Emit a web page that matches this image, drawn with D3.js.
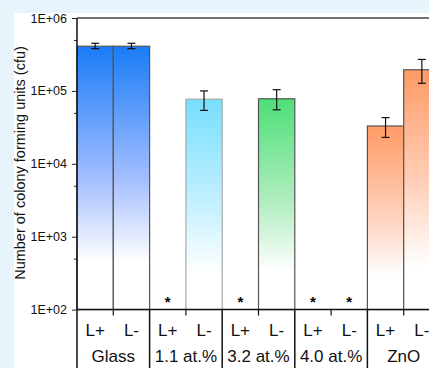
<!DOCTYPE html>
<html>
<head>
<meta charset="utf-8">
<script src="https://cdn.jsdelivr.net/npm/d3@7"></script>
<style>
  html, body { margin: 0; padding: 0; background: #e8f4fb; }
  svg { display: block; font-family: "Liberation Sans", Arial, sans-serif; }
</style>
</head>
<body>
<div id="chart"></div>
<script>
// valores (cfu); null = não detectado (*)
const groups = ['Glass', '1.1 at.%', '3.2 at.%', '4.0 at.%', 'ZnO'];
const conditions = ['L+', 'L-'];
const meanLplus = [4.1e5, null, null, null, 3.3e4];
const meanLminus = [4.1e5, 7.7e4, 7.8e4, null, 1.95e5];
const errLplus = [[3.8e5, 4.5e5], null, null, null, [2.3e4, 4.3e4]];
const errLminus = [[3.8e5, 4.5e5], [5.4e4, 1.0e5], [5.5e4, 1.04e5], null, [1.27e5, 2.7e5]];
const yTicks = [1e2, 1e3, 1e4, 1e5, 1e6];
const yMinorTicks = [5e2, 5e3, 5e4, 5e5];

const palette = ['#1a7cf5', '#76dfff', '#4ddf77', '#cccccc', '#ff9a66'];
const paletteMid = ['#a3bdff', '#c4f0ff', '#b3eec2', '#eeeeee', '#ffd3bd'];
const edge = ['#555', '#aaa', '#555', '#555', '#555'];

const width = 429, height = 368;
const plotLeft = 77, plotTop = 18, plotBottom = 309.6;
const slot = 36.3;

const rows = [];
groups.forEach((g, gi) => {
  conditions.forEach((c, ci) => {
    rows.push({
      key: g + '|' + c, group: g, gi, cond: c,
      value: ci === 0 ? meanLplus[gi] : meanLminus[gi],
      err: ci === 0 ? errLplus[gi] : errLminus[gi]
    });
  });
});

const svg = d3.select('#chart').append('svg').attr('width', width).attr('height', height);
svg.append('rect').attr('x', 14).attr('y', 13).attr('width', width).attr('height', height).attr('fill', '#fff');

const x = d3.scaleBand().domain(rows.map(d => d.key)).range([plotLeft, plotLeft + slot * rows.length]).padding(0);
const xg = d3.scaleBand().domain(groups).range([plotLeft, plotLeft + slot * rows.length]).padding(0);
const y = d3.scaleLog().domain([1e2, 1e6]).range([plotBottom, plotTop]);

const defs = svg.append('defs');
groups.forEach((g, gi) => {
  const grad = defs.append('linearGradient').attr('id', 'grad' + gi)
    .attr('x1', 0).attr('y1', 0).attr('x2', 0).attr('y2', 1);
  grad.append('stop').attr('offset', '0%').attr('stop-color', palette[gi]);
  grad.append('stop').attr('offset', '50%').attr('stop-color', paletteMid[gi]);
  grad.append('stop').attr('offset', '82%').attr('stop-color', '#fff');
});

// barras
const withBars = rows.filter(d => d.value != null);
svg.selectAll('rect.bar').data(withBars).enter().append('rect')
  .attr('class', 'bar')
  .attr('x', d => x(d.key))
  .attr('y', d => y(d.value))
  .attr('width', x.bandwidth())
  .attr('height', d => plotBottom - y(d.value))
  .attr('fill', d => `url(#grad${d.gi})`)
  .attr('stroke', d => edge[d.gi])
  .attr('stroke-width', 1.2);

// barras de erro
const eb = svg.selectAll('g.err').data(withBars.filter(d => d.err)).enter().append('g')
  .attr('stroke', '#111').attr('stroke-width', 1.2);
const cx = d => x(d.key) + x.bandwidth() / 2;
eb.append('line').attr('x1', cx).attr('x2', cx).attr('y1', d => y(d.err[0])).attr('y2', d => y(d.err[1]));
eb.append('line').attr('x1', d => cx(d) - 4).attr('x2', d => cx(d) + 4).attr('y1', d => y(d.err[0])).attr('y2', d => y(d.err[0]));
eb.append('line').attr('x1', d => cx(d) - 4).attr('x2', d => cx(d) + 4).attr('y1', d => y(d.err[1])).attr('y2', d => y(d.err[1]));

// asteriscos
svg.selectAll('text.star').data(rows.filter(d => d.value == null)).enter().append('text')
  .attr('x', cx).attr('y', plotBottom - 3)
  .attr('text-anchor', 'middle').attr('font-size', 15).attr('font-weight', 'bold')
  .text('*');

// eixo y
const yAxis = svg.append('g').attr('transform', `translate(${plotLeft},0)`)
  .call(d3.axisLeft(y).tickValues(yTicks).tickSize(5).tickPadding(5)
    .tickFormat(d => '1E+0' + Math.round(Math.log10(d))));
yAxis.attr('font-size', 12.5).attr('font-family', '"Liberation Sans", Arial, sans-serif');
yAxis.select('.domain').remove();
yAxis.selectAll('text').attr('fill', '#111');
yAxis.selectAll('line').attr('stroke', '#222');
svg.append('g').attr('transform', `translate(${plotLeft},0)`)
  .call(d3.axisLeft(y).tickValues(yMinorTicks).tickSize(3).tickFormat(''))
  .call(g => g.select('.domain').remove())
  .selectAll('line').attr('stroke', '#222');

svg.append('line').attr('x1', plotLeft).attr('x2', plotLeft).attr('y1', plotTop).attr('y2', height).attr('stroke', '#111').attr('stroke-width', 1.5);
svg.append('line').attr('x1', plotLeft).attr('x2', width).attr('y1', plotTop).attr('y2', plotTop).attr('stroke', '#444').attr('stroke-width', 1.5);
svg.append('line').attr('x1', plotLeft).attr('x2', width).attr('y1', plotBottom).attr('y2', plotBottom).attr('stroke', '#111').attr('stroke-width', 1.5);

svg.append('text')
  .attr('transform', 'rotate(-90)')
  .attr('x', -163).attr('y', 25)
  .attr('text-anchor', 'middle').attr('font-size', 14.5).attr('fill', '#111')
  .text('Number of colony forming units (cfu)');

// eixo x: divisórias dos grupos e marcas centrais
svg.selectAll('line.sep').data(groups).enter().append('line')
  .attr('x1', (d, i) => plotLeft + xg.bandwidth() * (i + 1)).attr('x2', (d, i) => plotLeft + xg.bandwidth() * (i + 1))
  .attr('y1', plotBottom).attr('y2', height).attr('stroke', '#111').attr('stroke-width', 1.5);
svg.selectAll('line.mid').data(groups).enter().append('line')
  .attr('x1', d => xg(d) + xg.bandwidth() / 2).attr('x2', d => xg(d) + xg.bandwidth() / 2)
  .attr('y1', plotBottom).attr('y2', plotBottom + 6).attr('stroke', '#111').attr('stroke-width', 1.2);

svg.selectAll('text.cond').data(rows).enter().append('text')
  .attr('x', cx).attr('y', 336)
  .attr('text-anchor', 'middle').attr('font-size', 17).attr('fill', '#111')
  .text(d => d.cond);
svg.selectAll('text.grp').data(groups).enter().append('text')
  .attr('x', d => xg(d) + xg.bandwidth() / 2).attr('y', 362)
  .attr('text-anchor', 'middle').attr('font-size', 17).attr('fill', '#111')
  .text(d => d);
</script>
</body>
</html>
